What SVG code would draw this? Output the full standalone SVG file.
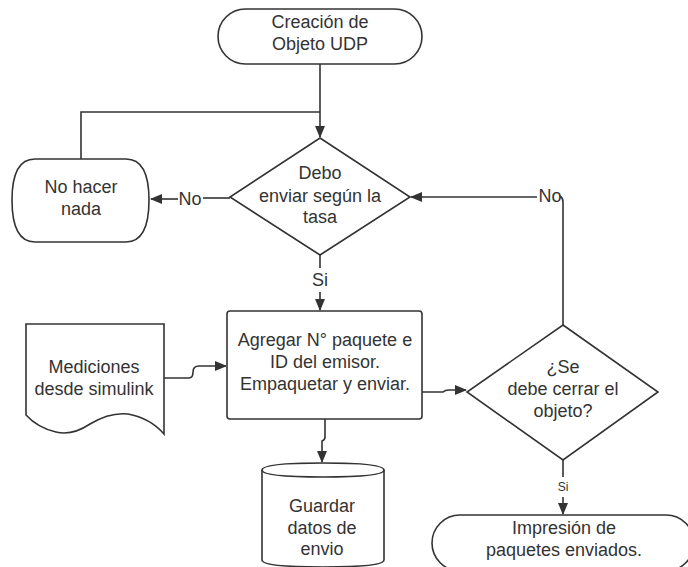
<svg xmlns="http://www.w3.org/2000/svg" width="688" height="567" viewBox="0 0 688 567">
<defs>
<marker id="ah" markerWidth="12" markerHeight="10" refX="11" refY="5" orient="auto" markerUnits="userSpaceOnUse">
<path d="M0,0 L12,5 L0,10 Z" fill="#333"/>
</marker>
<style>
.s{fill:#fff;stroke:#333;stroke-width:1.6}
.c{fill:none;stroke:#333;stroke-width:1.6}
text{font-family:"Liberation Sans",Arial,sans-serif;font-size:18px;fill:#333;text-anchor:middle}
.sm{font-size:12px}
</style>
</defs>
<rect width="688" height="567" fill="#fff"/>
<g id="connectors">
<path class="c" d="M320,63 V137" marker-end="url(#ah)"/>
<path class="c" d="M320,112 H81 V159"/>
<path class="c" d="M230,198 H203"/>
<path class="c" d="M178,199 H151" marker-end="url(#ah)"/>
<path class="c" d="M563,325 V202 Q563,198 560,196"/>
<path class="c" d="M537,197 H411" marker-end="url(#ah)"/>
<path class="c" d="M320,255 V268"/>
<path class="c" d="M320,292 V310" marker-end="url(#ah)"/>
<path class="c" d="M164,378 H189 Q193,378 193,372 Q193,366 199,366 H226" marker-end="url(#ah)"/>
<path class="c" d="M422,392 H443 Q445,390 449,390 H466" marker-end="url(#ah)"/>
<path class="c" d="M325,419 V437 Q325,440 322,441 V462" marker-end="url(#ah)"/>
<path class="c" d="M563,460 V477"/>
<path class="c" d="M563,497 V514" marker-end="url(#ah)"/>
<text x="190" y="205">No</text>
<text x="550" y="202">No</text>
<text x="320" y="286">Si</text>
<text class="sm" x="563" y="491">Si</text>
</g>
<g id="start">
<rect class="s" x="218" y="9" width="204" height="55" rx="27.5"/>
<text x="320" y="28">Creación de</text>
<text x="320" y="50">Objeto UDP</text>
</g>
<g id="nohacer">
<path class="s" d="M35,159 H126 Q149,159 149,200 Q149,242 126,242 H35 Q12,242 12,200 Q12,159 35,159 Z"/>
<text x="81" y="193">No hacer</text>
<text x="81" y="215">nada</text>
</g>
<g id="decision1">
<path class="s" d="M320,138 L410,197 L320,255 L230,197 Z"/>
<text x="320" y="179">Debo</text>
<text x="320" y="202">enviar según la</text>
<text x="320" y="223">tasa</text>
</g>
<g id="mediciones">
<path class="s" d="M26,324 H164 V434 Q150,418 128,414 Q110,412 90,424 Q72,436 56,432 Q38,428 26,415 Z"/>
<text x="94" y="373">Mediciones</text>
<text x="94" y="395">desde simulink</text>
</g>
<g id="proceso">
<rect class="s" x="227" y="311" width="195" height="108" rx="3"/>
<text x="325" y="346">Agregar N° paquete e</text>
<text x="325" y="368">ID del emisor.</text>
<text x="325" y="390">Empaquetar y enviar.</text>
</g>
<g id="decision2">
<path class="s" d="M563,325 L658,392 L563,460 L467,392 Z"/>
<text x="563" y="373">¿Se</text>
<text x="563" y="395">debe cerrar el</text>
<text x="563" y="417">objeto?</text>
</g>
<g id="guardar">
<path class="s" d="M262,470 V560 Q262,567 323,567 Q384,567 384,560 V470 Q384,463 323,463 Q262,463 262,470 Z"/>
<path class="c" d="M262,470 Q262,477 323,477 Q384,477 384,470"/>
<text x="322" y="512">Guardar</text>
<text x="322" y="534">datos de</text>
<text x="322" y="555">envio</text>
</g>
<g id="fin">
<rect class="s" x="432" y="515" width="262" height="56" rx="28" ry="28"/>
<text x="564" y="534">Impresión de</text>
<text x="564" y="556">paquetes enviados.</text>
</g>
</svg>
